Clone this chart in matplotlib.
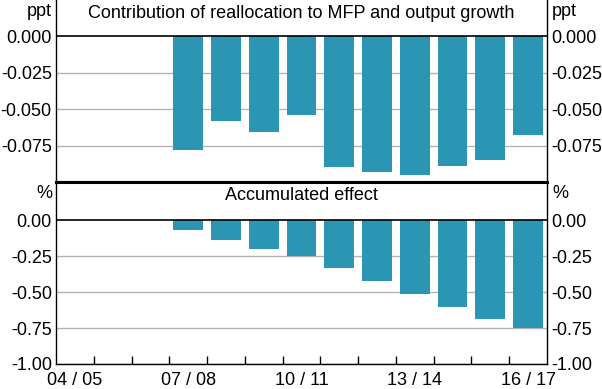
import matplotlib
matplotlib.use("Agg")
import matplotlib.pyplot as plt
import numpy as np

plt.rcParams['font.family'] = ['Liberation Sans', 'DejaVu Sans']

categories = ["04 / 05", "05 / 06", "06 / 07", "07 / 08", "08 / 09", "09 / 10", "10 / 11",
              "11 / 12", "12 / 13", "13 / 14", "14 / 15", "15 / 16", "16 / 17"]
shown_labels = ["04 / 05", "07 / 08", "10 / 11", "13 / 14", "16 / 17"]
contribution = [np.nan, np.nan, np.nan, -0.078, -0.058, -0.066, -0.054,
                -0.090, -0.093, -0.0955, -0.089, -0.085, -0.068]
accumulated = [np.nan, np.nan, np.nan, -0.07, -0.135, -0.20, -0.25,
               -0.335, -0.425, -0.515, -0.605, -0.685, -0.75]
top_ticks = [0.0, -0.025, -0.05, -0.075]
top_ticklabels = ["0.000", "-0.025", "-0.050", "-0.075"]
bot_ticks = [0.0, -0.25, -0.5, -0.75, -1.0]
bot_ticklabels = ["0.00", "-0.25", "-0.50", "-0.75", "-1.00"]

color = '#2A96B4'
fs = 13
W, H = 602, 389
fig = plt.figure(figsize=(W / 100, H / 100), dpi=100)
left, right = 56 / W, 547 / W
ax1 = fig.add_axes([left, 1 - 182 / H, right - left, 182 / H])
ax2 = fig.add_axes([left, 1 - 364 / H, right - left, (364 - 182) / H])

x = np.arange(len(categories))

def style(ax, ticks, labels, ylim, unit, title):
    ax.set_xlim(-0.5, len(categories) - 0.5)
    ax.set_ylim(*ylim)
    ax.set_yticks(ticks)
    ax.set_yticklabels(labels)
    ax.tick_params(axis='y', length=0, pad=3, labelsize=fs, labelleft=True, labelright=True)
    for t in ticks:
        if t != 0:
            ax.axhline(t, color='#B4B4B4', lw=1, zorder=0)
    ax.axhline(0, color='black', lw=1.2, zorder=3)
    for s in ax.spines.values():
        s.set_linewidth(1.0)
        s.set_color('black')
    ax.text(0.5, 1 - 14 / 182, title, transform=ax.transAxes, ha='center', va='center', fontsize=fs)
    ax.text(-0.008, 1 - 12 / 182, unit, transform=ax.transAxes, ha='right', va='center', fontsize=fs)
    ax.text(1.010, 1 - 12 / 182, unit, transform=ax.transAxes, ha='left', va='center', fontsize=fs)

ax1.bar(x, contribution, width=0.79, color=color, zorder=2)
style(ax1, top_ticks, top_ticklabels, (-0.1000, 0.0250), "ppt",
      "Contribution of reallocation to MFP and output growth")
ax1.set_xticks([])
ax1.spines['top'].set_visible(False)
ax1.spines['bottom'].set_linewidth(2.2)

ax2.bar(x, accumulated, width=0.79, color=color, zorder=2)
style(ax2, bot_ticks, bot_ticklabels, (-1.0, 0.265), "%", "Accumulated effect")
ax2.spines['top'].set_linewidth(2.2)
label_pos = [categories.index(c) for c in shown_labels]
ax2.set_xticks(label_pos)
ax2.set_xticklabels(shown_labels)
ax2.tick_params(axis='x', which='major', length=0, pad=6, labelsize=fs)
ax2.set_xticks(np.arange(len(categories) - 1) + 0.5, minor=True)
ax2.tick_params(axis='x', which='minor', direction='in', length=6, width=1, color='black')

fig.savefig("out.png", dpi=100)
